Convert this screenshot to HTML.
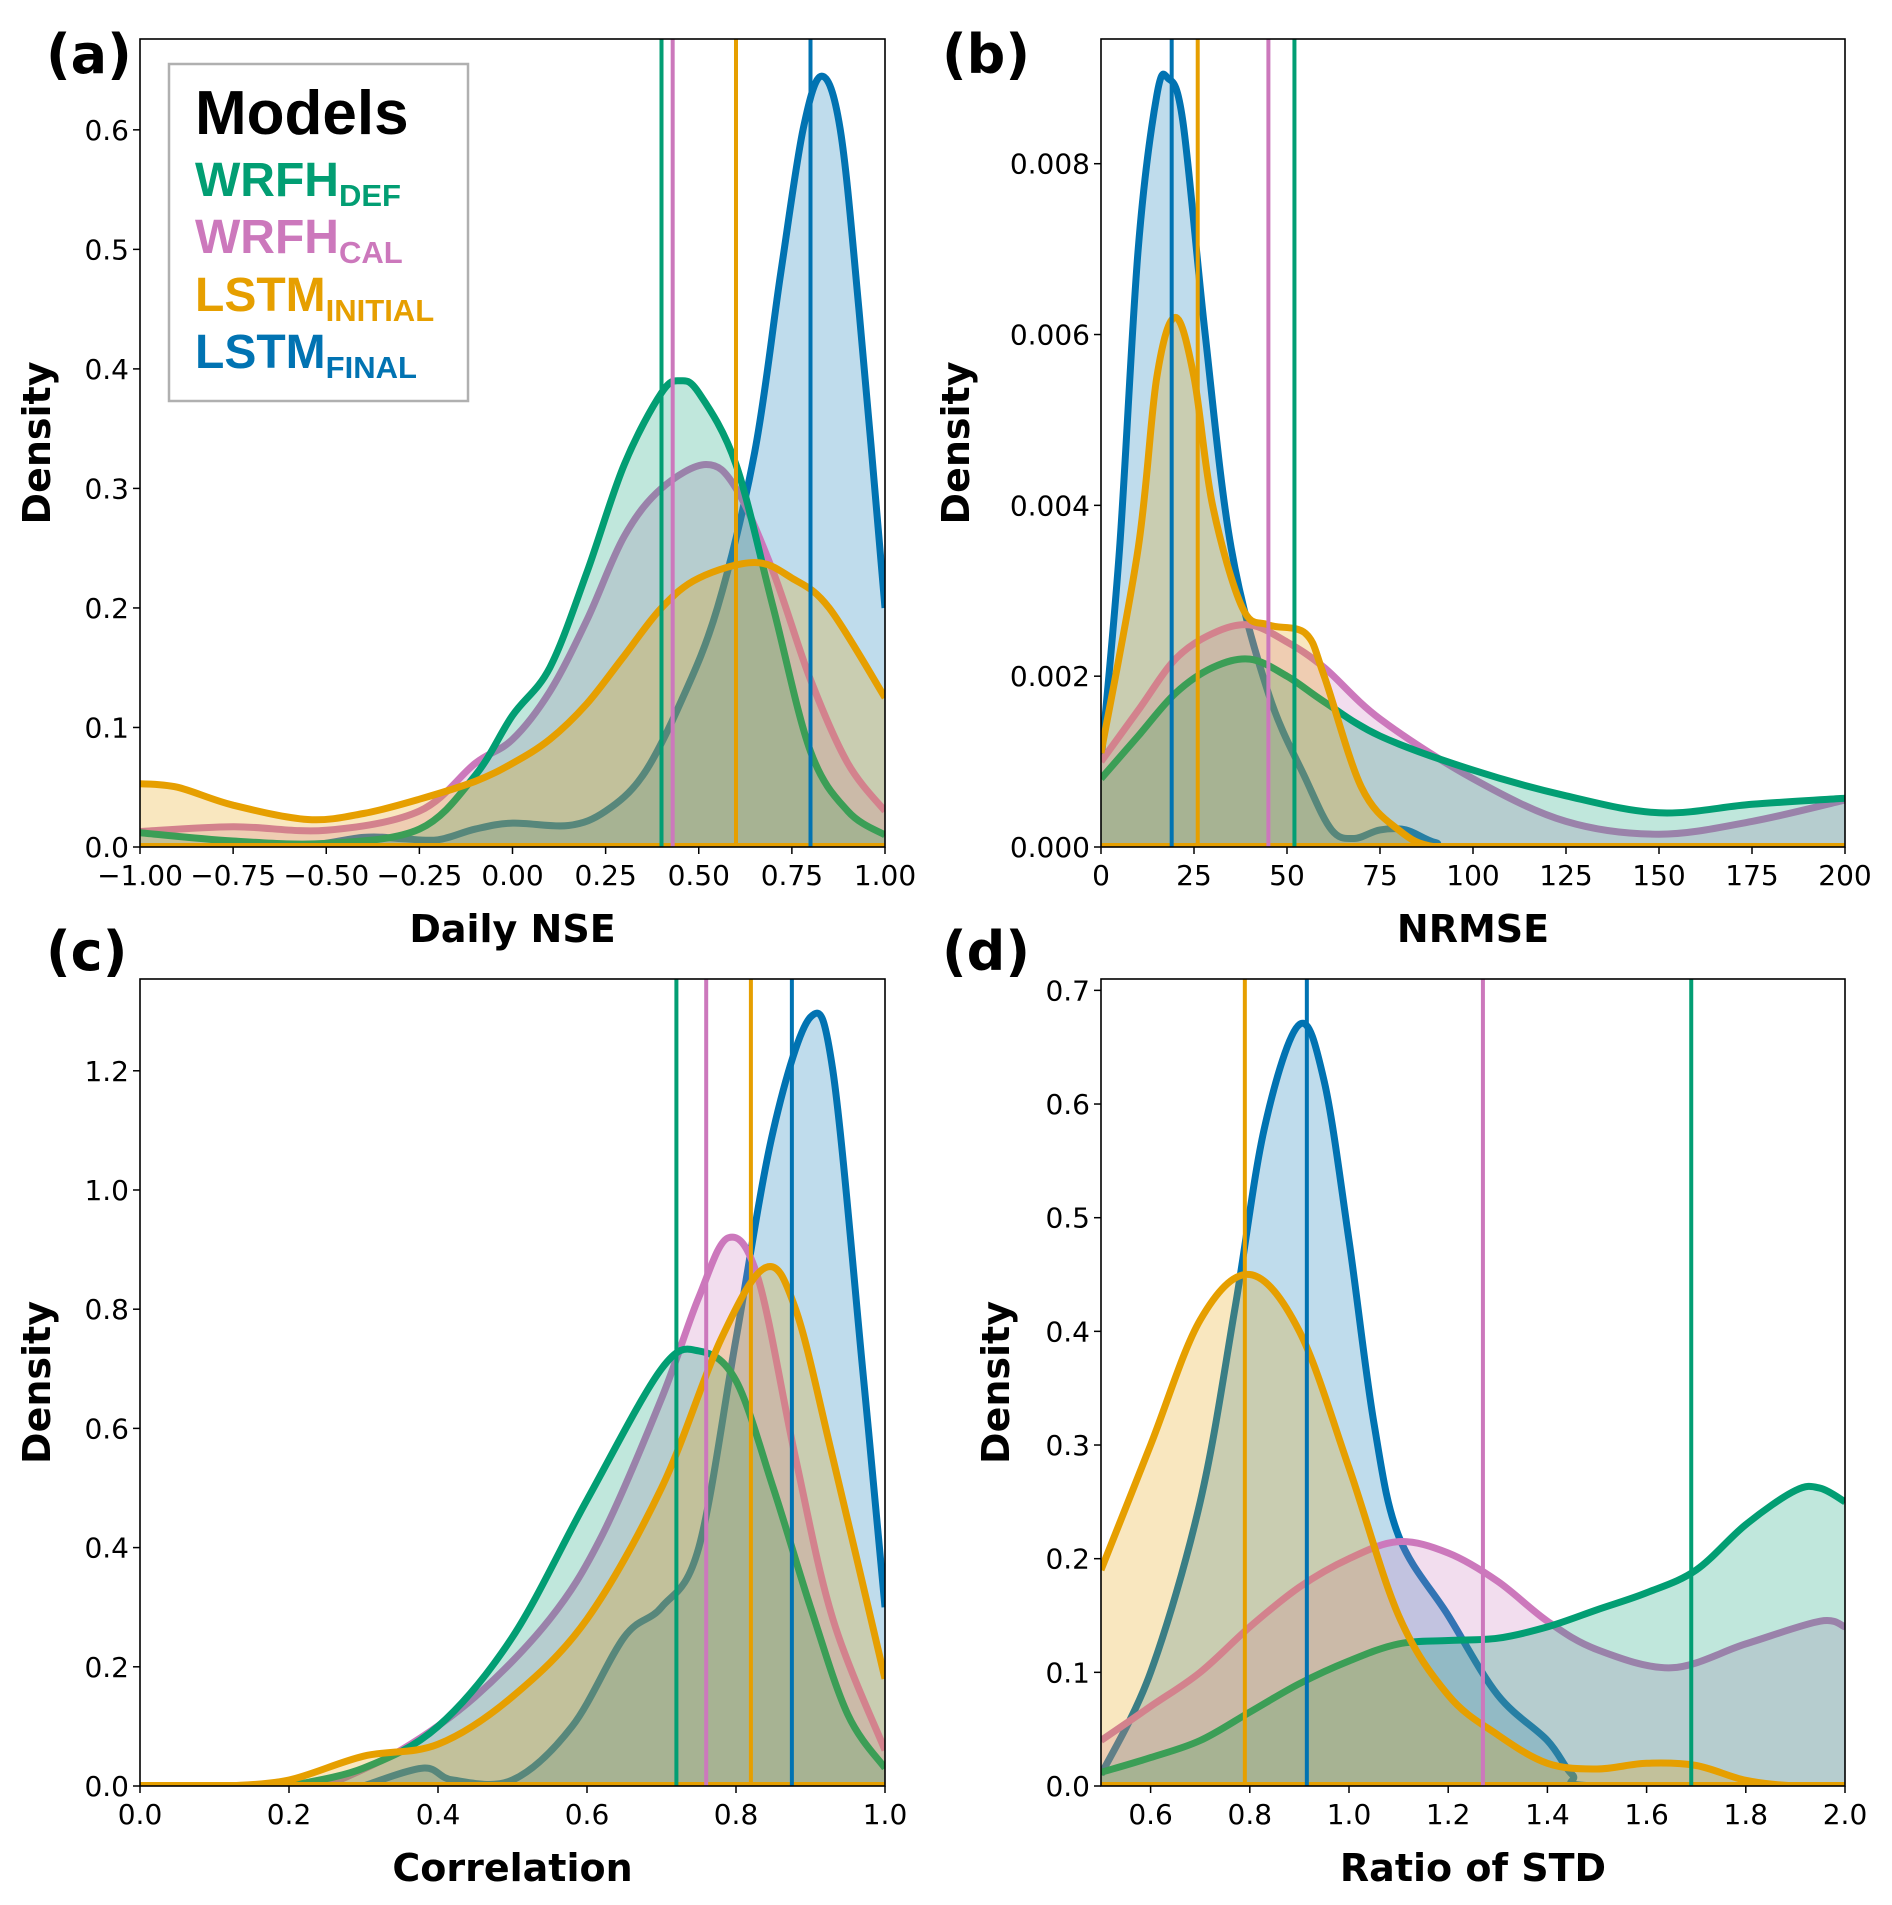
<!DOCTYPE html>
<html><head><meta charset="utf-8"><style>
html,body{margin:0;padding:0;background:#fff}
svg{display:block;font-family:"DejaVu Sans","Liberation Sans",sans-serif}
</style></head><body>
<svg id="fig" width="1892" height="1905" viewBox="0 0 1892 1905"></svg>
<script>
const seriesNames = ["WRFH_DEF","WRFH_CAL","LSTM_INITIAL","LSTM_FINAL"];
const seriesColors = ["#029e73","#cc78bc","#e69f00","#0173b2"];
// Panel a: Daily NSE
const aDefX=[-1,-0.75,-0.5,-0.25,-0.1,0,0.1,0.2,0.3,0.4,0.45,0.5,0.6,0.7,0.8,0.9,1.0];
const aDefY=[0.012,0.005,0.003,0.015,0.06,0.11,0.15,0.23,0.32,0.38,0.39,0.38,0.32,0.2,0.08,0.03,0.01];
const aCalX=[-1,-0.75,-0.5,-0.25,-0.1,0,0.1,0.2,0.3,0.4,0.52,0.6,0.7,0.8,0.9,1.0];
const aCalY=[0.013,0.017,0.014,0.03,0.07,0.09,0.13,0.19,0.26,0.3,0.32,0.3,0.23,0.14,0.07,0.03];
const aIniX=[-1,-0.9,-0.75,-0.55,-0.4,-0.25,-0.1,0,0.1,0.2,0.3,0.4,0.5,0.65,0.75,0.85,1.0];
const aIniY=[0.053,0.05,0.035,0.023,0.028,0.04,0.055,0.07,0.09,0.12,0.16,0.2,0.225,0.238,0.225,0.2,0.125];
const aFinX=[-1,-0.6,-0.4,-0.3,-0.2,-0.1,0,0.15,0.25,0.35,0.45,0.55,0.65,0.72,0.78,0.83,0.88,0.93,1.0];
const aFinY=[0,0,0.008,0.007,0.006,0.015,0.02,0.018,0.03,0.06,0.12,0.2,0.33,0.48,0.6,0.645,0.6,0.45,0.2];
const aMeans=[0.40,0.43,0.60,0.80];
const aTicksX=[-1,-0.75,-0.5,-0.25,0,0.25,0.5,0.75,1];
const aTickLabelsX=["\u22121.00","\u22120.75","\u22120.50","\u22120.25","0.00","0.25","0.50","0.75","1.00"];
const aTicksY=[0,0.1,0.2,0.3,0.4,0.5,0.6];
const aTickLabelsY=["0.0","0.1","0.2","0.3","0.4","0.5","0.6"];
// Panel b: NRMSE
const bDefX=[0,10,20,30,40,50,60,75,100,125,150,175,200];
const bDefY=[0.0008,0.0013,0.0018,0.0021,0.0022,0.002,0.0017,0.0013,0.0009,0.0006,0.0004,0.0005,0.00057];
const bCalX=[0,10,20,30,40,50,60,75,100,125,150,175,200];
const bCalY=[0.001,0.0016,0.0022,0.0025,0.0026,0.0024,0.0021,0.0015,0.0008,0.0003,0.00015,0.0003,0.00055];
const bIniX=[0,10,15,20,25,30,38,45,55,60,70,80,90,110,200];
const bIniY=[0.0011,0.0035,0.0055,0.0062,0.0055,0.004,0.0028,0.0026,0.0025,0.002,0.0007,0.0002,0,0,0];
const bFinX=[0,5,10,15,18,22,28,35,45,55,62,68,75,82,90,100,200];
const bFinY=[0.001,0.0035,0.007,0.0088,0.009,0.0085,0.006,0.0035,0.0018,0.0008,0.0002,0.0001,0.0002,0.0002,0.00005,0,0];
const bMeans=[52,45,26,19];
const bTicksX=[0,25,50,75,100,125,150,175,200];
const bTickLabelsX=["0","25","50","75","100","125","150","175","200"];
const bTicksY=[0,0.002,0.004,0.006,0.008];
const bTickLabelsY=["0.000","0.002","0.004","0.006","0.008"];
// Panel c: Correlation
const cDefX=[0.2,0.3,0.4,0.5,0.6,0.7,0.75,0.8,0.85,0.9,0.95,1.0];
const cDefY=[0,0.03,0.1,0.25,0.48,0.7,0.73,0.68,0.5,0.3,0.12,0.03];
const cCalX=[0.25,0.35,0.45,0.55,0.62,0.7,0.75,0.79,0.83,0.88,0.93,1.0];
const cCalY=[0,0.06,0.15,0.28,0.42,0.65,0.82,0.92,0.85,0.55,0.28,0.06];
const cIniX=[0.12,0.2,0.3,0.4,0.5,0.6,0.7,0.78,0.84,0.88,0.93,1.0];
const cIniY=[0,0.01,0.05,0.07,0.15,0.28,0.5,0.75,0.87,0.8,0.55,0.18];
const cFinX=[0.3,0.38,0.42,0.5,0.58,0.65,0.7,0.75,0.8,0.85,0.9,0.93,0.97,1.0];
const cFinY=[0,0.03,0.01,0.01,0.1,0.25,0.3,0.4,0.75,1.1,1.29,1.2,0.7,0.3];
const cMeans=[0.72,0.76,0.82,0.875];
const cTicksX=[0,0.2,0.4,0.6,0.8,1.0];
const cTickLabelsX=["0.0","0.2","0.4","0.6","0.8","1.0"];
const cTicksY=[0,0.2,0.4,0.6,0.8,1.0,1.2];
const cTickLabelsY=["0.0","0.2","0.4","0.6","0.8","1.0","1.2"];
// Panel d: Ratio of STD
const dDefX=[0.5,0.6,0.7,0.8,0.9,1.0,1.1,1.2,1.3,1.4,1.5,1.6,1.7,1.8,1.9,1.95,2.0];
const dDefY=[0.012,0.025,0.04,0.065,0.09,0.11,0.125,0.128,0.13,0.14,0.155,0.17,0.19,0.23,0.26,0.262,0.25];
const dCalX=[0.5,0.6,0.7,0.8,0.9,1.0,1.1,1.2,1.3,1.4,1.5,1.65,1.8,1.95,2.0];
const dCalY=[0.04,0.07,0.1,0.14,0.175,0.2,0.215,0.205,0.18,0.145,0.12,0.104,0.125,0.145,0.14];
const dIniX=[0.5,0.6,0.7,0.8,0.9,1.0,1.1,1.2,1.3,1.4,1.5,1.6,1.7,1.8,1.9,2.0];
const dIniY=[0.19,0.3,0.41,0.45,0.4,0.28,0.15,0.08,0.045,0.02,0.015,0.02,0.018,0.005,0,0];
const dFinX=[0.5,0.6,0.7,0.77,0.83,0.9,0.95,1.0,1.05,1.1,1.2,1.3,1.4,1.45,1.5,2.0];
const dFinY=[0.01,0.1,0.25,0.42,0.58,0.67,0.62,0.48,0.32,0.22,0.15,0.08,0.04,0.01,0,0];
const dMeans=[1.69,1.27,0.79,0.915];
const dTicksX=[0.6,0.8,1.0,1.2,1.4,1.6,1.8,2.0];
const dTickLabelsX=["0.6","0.8","1.0","1.2","1.4","1.6","1.8","2.0"];
const dTicksY=[0,0.1,0.2,0.3,0.4,0.5,0.6,0.7];
const dTickLabelsY=["0.0","0.1","0.2","0.3","0.4","0.5","0.6","0.7"];

const NS="http://www.w3.org/2000/svg";
const svg=document.getElementById('fig');
function mk(tag,attrs,parent){const e=document.createElementNS(NS,tag);for(const k in attrs)e.setAttribute(k,attrs[k]);(parent||svg).appendChild(e);return e;}

const panels=[
 {id:'a',label:'(a)',box:[140,39,885,847],xlim:[-1,1],ylim:[0,0.676],xs:[aDefX,aCalX,aIniX,aFinX],ys:[aDefY,aCalY,aIniY,aFinY],means:aMeans,tx:aTicksX,txl:aTickLabelsX,ty:aTicksY,tyl:aTickLabelsY,xlabel:'Daily NSE',lab:[46,73],ylabX:36},
 {id:'b',label:'(b)',box:[1101,39,1845,847],xlim:[0,200],ylim:[0,0.00946],xs:[bDefX,bCalX,bIniX,bFinX],ys:[bDefY,bCalY,bIniY,bFinY],means:bMeans,tx:bTicksX,txl:bTickLabelsX,ty:bTicksY,tyl:bTickLabelsY,xlabel:'NRMSE',lab:[942,73],ylabX:955},
 {id:'c',label:'(c)',box:[140,979,885,1786],xlim:[0,1],ylim:[0,1.354],xs:[cDefX,cCalX,cIniX,cFinX],ys:[cDefY,cCalY,cIniY,cFinY],means:cMeans,tx:cTicksX,txl:cTickLabelsX,ty:cTicksY,tyl:cTickLabelsY,xlabel:'Correlation',lab:[46,970],ylabX:36},
 {id:'d',label:'(d)',box:[1101,979,1845,1786],xlim:[0.5,2.0],ylim:[0,0.71],xs:[dDefX,dCalX,dIniX,dFinX],ys:[dDefY,dCalY,dIniY,dFinY],means:dMeans,tx:dTicksX,txl:dTickLabelsX,ty:dTicksY,tyl:dTickLabelsY,xlabel:'Ratio of STD',lab:[942,970],ylabX:995}
];
const drawOrder=[3,1,0,2];

function smoothPath(pts){
 let d='M'+pts[0][0].toFixed(1)+','+pts[0][1].toFixed(1);
 for(let i=0;i<pts.length-1;i++){
  const p0=pts[i-1]||pts[i],p1=pts[i],p2=pts[i+1],p3=pts[i+2]||p2;
  const c1=[p1[0]+(p2[0]-p0[0])/6,p1[1]+(p2[1]-p0[1])/6];
  const c2=[p2[0]-(p3[0]-p1[0])/6,p2[1]-(p3[1]-p1[1])/6];
  d+=' C'+c1[0].toFixed(1)+','+c1[1].toFixed(1)+' '+c2[0].toFixed(1)+','+c2[1].toFixed(1)+' '+p2[0].toFixed(1)+','+p2[1].toFixed(1);
 }
 return d;
}

panels.forEach(p=>{
 const [L,T,R,B]=p.box;
 const sx=v=>L+(v-p.xlim[0])/(p.xlim[1]-p.xlim[0])*(R-L);
 const sy=v=>B-(v-p.ylim[0])/(p.ylim[1]-p.ylim[0])*(B-T);
 const g=mk('g',{});
 
 
 const cp=mk('clipPath',{id:'clip'+p.id},g);
 mk('rect',{x:L,y:T,width:R-L,height:B-T},cp);
 const plot=mk('g',{'clip-path':'url(#clip'+p.id+')'},g);
 drawOrder.forEach(s=>{
  const pts=p.xs[s].map((x,i)=>[sx(x),sy(p.ys[s][i])]);
  const d=smoothPath(pts);
  const fill=mk('path',{d:d+' L'+pts[pts.length-1][0].toFixed(1)+','+B+' L'+pts[0][0].toFixed(1)+','+B+' Z',fill:seriesColors[s],'fill-opacity':0.25,stroke:'none'},plot);
  
  
  const line=mk('path',{d:d,fill:'none',stroke:seriesColors[s],'stroke-width':7,'stroke-linejoin':'round'},plot);
  
  
 });
 mk('line',{x1:L,x2:R,y1:B-2,y2:B-2,stroke:seriesColors[2],'stroke-width':4},plot);
 for(let s=0;s<4;s++){
  const v=mk('line',{x1:sx(p.means[s]),x2:sx(p.means[s]),y1:T,y2:B,stroke:seriesColors[s],'stroke-width':4},plot);
  
  
 }
 const frame=mk('rect',{x:L,y:T,width:R-L,height:B-T,fill:'none',stroke:'#000','stroke-width':1.6},g);
 
 
 p.tx.forEach((t,i)=>{
  const x=sx(t);
  mk('line',{x1:x,x2:x,y1:B,y2:B+7,stroke:'#000','stroke-width':1.5},g);
  const tl=mk('text',{x:x,y:B+38,'font-size':28,'text-anchor':'middle',fill:'#000'},g);
  tl.textContent=p.txl[i];
  
  
 });
 p.ty.forEach((t,i)=>{
  const y=sy(t);
  mk('line',{x1:L-7,x2:L,y1:y,y2:y,stroke:'#000','stroke-width':1.5},g);
  const tl=mk('text',{x:L-11,y:y+10,'font-size':28,'text-anchor':'end',fill:'#000'},g);
  tl.textContent=p.tyl[i];
  
  
 });
 const xl=mk('text',{x:(L+R)/2,y:B+95,'font-size':38,'font-weight':'bold','text-anchor':'middle'},g);
 xl.textContent=p.xlabel;
 
 
 const yl=mk('text',{x:0,y:0,'font-size':38,'font-weight':'bold','text-anchor':'middle',transform:'translate('+(p.ylabX+14)+','+((T+B)/2)+') rotate(-90)'},g);
 yl.textContent='Density';
 
 
 const pl=mk('text',{x:p.lab[0],y:p.lab[1],'font-size':54,'font-weight':'bold'},g);
 pl.textContent=p.label;
 
 
});

// legend
const lg=mk('g',{'font-family':'"Liberation Sans","DejaVu Sans",sans-serif'});


mk('rect',{x:169,y:64,width:299,height:337,fill:'#fff','fill-opacity':0.85,stroke:'#b0b0b0','stroke-width':2.5},lg);
const lt=mk('text',{x:195,y:134,'font-size':62,'font-weight':'bold'},lg);
lt.textContent='Models';


const legMain=["WRFH","WRFH","LSTM","LSTM"];
const legSub=["DEF","CAL","INITIAL","FINAL"];
const legY=[196,253,311,368];
for(let s=0;s<4;s++){
 const t=mk('text',{x:195,y:legY[s],'font-size':48,'font-weight':'bold',fill:seriesColors[s]},lg);
 
 
 const a=mk('tspan',{},t);a.textContent=legMain[s];
 const b=mk('tspan',{'font-size':31,dy:10},t);b.textContent=legSub[s];
}
</script>
</body></html>
